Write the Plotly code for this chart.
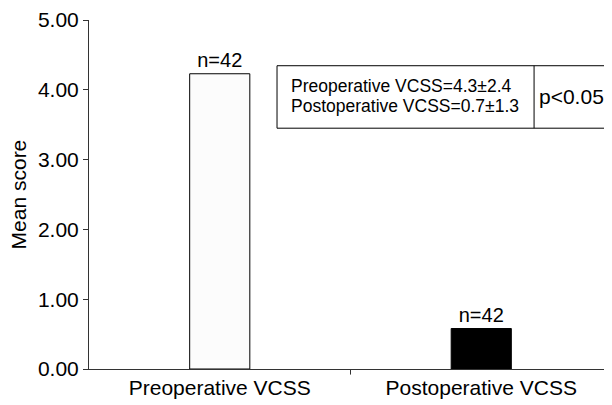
import plotly.graph_objects as go

categories = ["Preoperative VCSS", "Postoperative VCSS"]
mean_scores = [4.23, 0.58]
n_labels = ["n=42", "n=42"]
bar_colors = ["#fcfcfc", "#000000"]
y_ticks = [0, 1, 2, 3, 4, 5]
box_lines = ["Preoperative VCSS=4.3±2.4", "Postoperative VCSS=0.7±1.3"]
p_text = "p<0.05"

font = "Liberation Sans, Arial, sans-serif"

fig = go.Figure()
fig.add_trace(go.Bar(
    x=[0, 1], y=mean_scores, width=0.23,
    marker=dict(color=bar_colors, line=dict(color="#000000", width=1)),
    text=n_labels, textposition="outside", cliponaxis=False,
    textfont=dict(family=font, size=20, color="#000000"),
))

fig.update_layout(
    width=604, height=397,
    margin=dict(l=81, r=0, t=12, b=36),
    paper_bgcolor="white", plot_bgcolor="white",
    showlegend=False,
    font=dict(family=font, size=20, color="#000000"),
    xaxis=dict(
        range=[-0.5, 1.5], tickmode="array", tickvals=[0, 1], ticktext=categories,
        showline=True, linecolor="#333333", linewidth=1,
        ticks="", showgrid=False, zeroline=False, automargin=False,
        tickfont=dict(size=21),
    ),
    yaxis=dict(
        range=[0, 5], tickmode="array", tickvals=y_ticks,
        ticktext=[f"{v:.2f}" for v in y_ticks],
        showline=True, linecolor="#333333", linewidth=1,
        ticks="outside", ticklen=5, tickcolor="#333333",
        showgrid=False, zeroline=False, automargin=False,
        ticklabeloverflow="allow",
        tickfont=dict(size=21),
    ),
)

# y-axis title
fig.add_annotation(xref="paper", yref="paper", x=-0.134, y=0.5, text="Mean score",
                   textangle=-90, showarrow=False, xanchor="center", yanchor="middle",
                   font=dict(family=font, size=21, color="#000000"))

# tick mark at the category boundary
fig.add_shape(type="line", xref="x", yref="paper", x0=0.5, x1=0.5, y0=0, y1=-0.016,
              line=dict(color="#333333", width=1))

# statistics box
bx0, bx1, bx2 = 0.219, 1.202, 1.492
by0, by1 = 3.45, 4.345
fig.add_shape(type="rect", xref="x", yref="y", x0=bx0, x1=bx2, y0=by0, y1=by1,
              line=dict(color="#000000", width=1), fillcolor="white")
fig.add_shape(type="line", xref="x", yref="y", x0=bx1, x1=bx1, y0=by0, y1=by1,
              line=dict(color="#000000", width=1))
for line_text, ly in zip(box_lines, [4.06, 3.775]):
    fig.add_annotation(xref="x", yref="y", x=0.263, y=ly,
                       text=line_text, showarrow=False, xanchor="left", yanchor="middle",
                       font=dict(family=font, size=17.5, color="#000000"))
fig.add_annotation(xref="x", yref="y", x=(bx1 + bx2) / 2, y=(by0 + by1) / 2,
                   text=p_text, showarrow=False,
                   font=dict(family=font, size=21, color="#000000"))

fig.write_html("out.html")
